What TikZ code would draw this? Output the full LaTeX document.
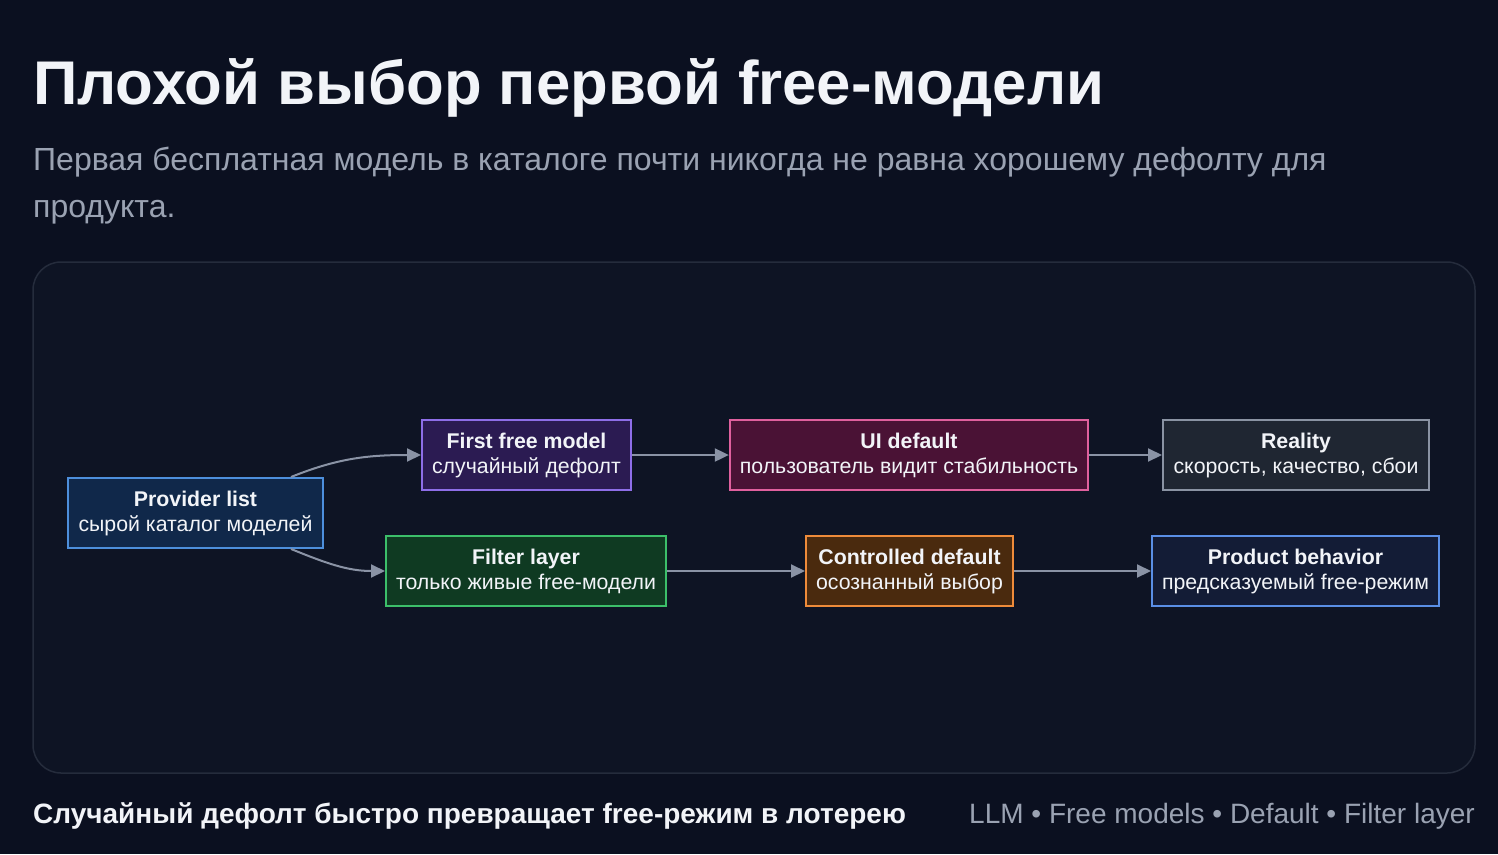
\documentclass[tikz,border=0pt]{standalone}
\usepackage{fontspec}
\setmainfont{Liberation Sans}
\usepackage{xcolor}
\usetikzlibrary{
    positioning,
    calc,
    arrows.meta
}
\definecolor{FundoEscuro}{HTML}{0B1020}
\definecolor{QuadroFundo}{HTML}{0E1424}
\definecolor{QuadroBorda}{HTML}{252C3C}
\definecolor{TextoClaro}{HTML}{F2F4F8}
\definecolor{TextoCinza}{HTML}{9AA2B2}
\definecolor{SetaCinza}{HTML}{8A93A5}

\tikzset{
    caixa/.style={
        draw,
        line width=2pt,
        text=TextoClaro,
        align=center,
        minimum height=70pt,
        inner xsep=10pt,
        font=\fontsize{21.3}{25}\selectfont
    },
    seta/.style={
        draw=SetaCinza,
        line width=2pt,
        -{Triangle[length=14pt,width=13pt]}
    }
}

\begin{document}
\begin{tikzpicture}[x=1pt,y=-1pt]
    % fundo e quadro
    \fill[FundoEscuro] (0,0) rectangle (1498,854);
    \useasboundingbox (0,0) rectangle (1498,854);
    \draw[fill=QuadroFundo, draw=QuadroBorda, line width=1.5pt, rounded corners=28pt]
        (33,262) rectangle (1475,773);

    % titulo
    \node[anchor=base west, inner sep=0pt, text=TextoClaro,
          font=\fontsize{61.7}{62}\selectfont\bfseries] (titulo) at (33,104)
        {Плохой выбор первой free-модели};
    \node[anchor=base west, inner sep=0pt, text=TextoCinza, align=left,
          font=\fontsize{32}{47}\selectfont] (subtitulo) at (33,217)
        {Первая бесплатная модель в каталоге почти никогда не равна хорошему дефолту для\\
         продукта.};

    % caixas
    \node[caixa, fill={rgb,255:red,16;green,40;blue,74}, draw={rgb,255:red,77;green,143;blue,220},
          minimum width=255pt] (provider) at (195.5,513)
        {\textbf{Provider list}\\сырой каталог моделей};
    \node[caixa, fill={rgb,255:red,43;green,27;blue,82}, draw={rgb,255:red,142;green,110;blue,232},
          minimum width=209pt] (firstfree) at (526.5,455)
        {\textbf{First free model}\\случайный дефолт};
    \node[caixa, fill={rgb,255:red,74;green,18;blue,53}, draw={rgb,255:red,224;green,96;blue,158},
          minimum width=358pt] (uidefault) at (909,455)
        {\textbf{UI default}\\пользователь видит стабильность};
    \node[caixa, fill={rgb,255:red,31;green,38;blue,50}, draw={rgb,255:red,138;green,147;blue,163},
          minimum width=266pt] (reality) at (1296,455)
        {\textbf{Reality}\\скорость, качество, сбои};
    \node[caixa, fill={rgb,255:red,15;green,58;blue,34}, draw={rgb,255:red,60;green,191;blue,106},
          minimum width=280pt] (filter) at (526,571)
        {\textbf{Filter layer}\\только живые free-модели};
    \node[caixa, fill={rgb,255:red,74;green,42;blue,14}, draw={rgb,255:red,238;green,139;blue,58},
          minimum width=207pt] (controlled) at (909.5,571)
        {\textbf{Controlled default}\\осознанный выбор};
    \node[caixa, fill={rgb,255:red,19;green,28;blue,54}, draw={rgb,255:red,90;green,143;blue,230},
          minimum width=287pt] (product) at (1295.5,571)
        {\textbf{Product behavior}\\предсказуемый free-режим};

    % setas
    \draw[seta] ([xshift=-33pt]provider.north east) to[out=22,in=180] (firstfree.west);
    \draw[seta] ([xshift=-33pt]provider.south east) to[out=-22,in=180] (filter.west);
    \draw[seta] (firstfree) -- (uidefault);
    \draw[seta] (uidefault) -- (reality);
    \draw[seta] (filter) -- (controlled);
    \draw[seta] (controlled) -- (product);

    % rodape
    \node[anchor=base west, inner sep=0pt, text=TextoClaro,
          font=\fontsize{28}{28}\selectfont\bfseries] (rodape) at (33,823)
        {Случайный дефолт быстро превращает free-режим в лотерею};
    \node[anchor=base east, inner sep=0pt, text=TextoCinza,
          font=\fontsize{28}{28}\selectfont] (etiquetas) at (1475,823)
        {LLM • Free models • Default • Filter layer};
\end{tikzpicture}
\end{document}
